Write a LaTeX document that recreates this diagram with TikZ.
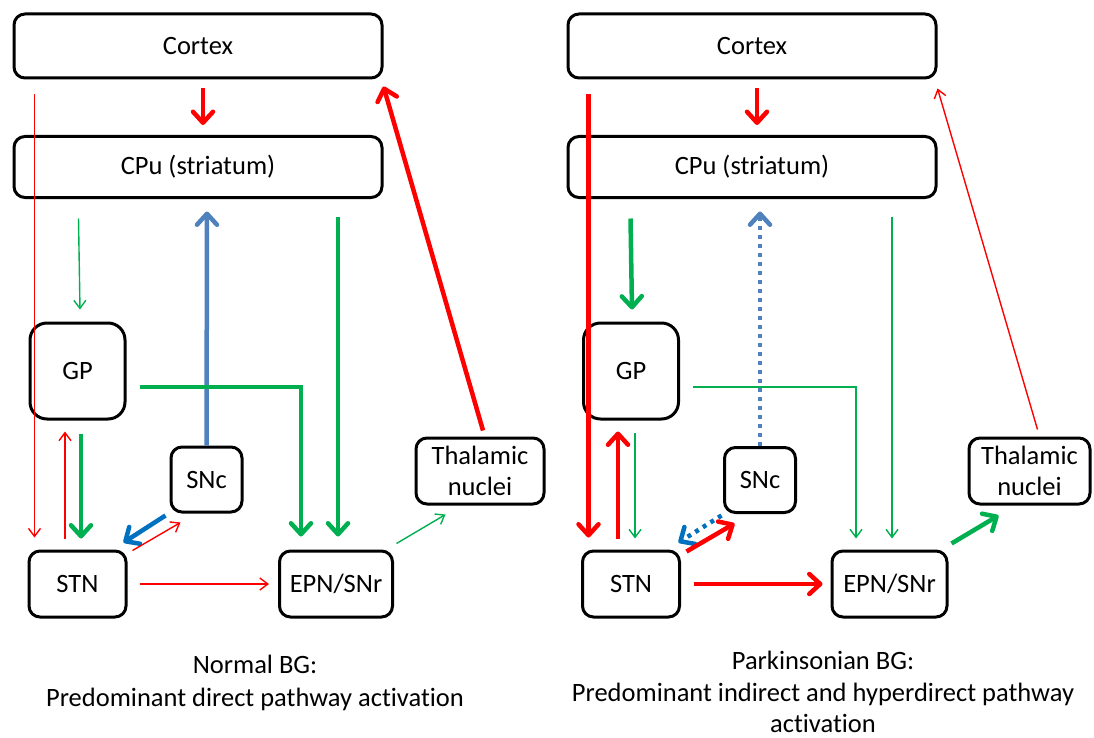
\documentclass[tikz,border=0pt]{standalone}
\usepackage{fontspec}
\setmainfont{Carlito}[Ligatures=CommonOff]
\usetikzlibrary{arrows.meta,calc}
\definecolor{pred}{RGB}{255,0,0}
\definecolor{pgreen}{RGB}{0,176,80}
\definecolor{pblue}{RGB}{79,129,189}
\definecolor{dblue}{RGB}{0,112,192}
\tikzset{
  box/.style={draw=black, line width=3pt, rounded corners=11pt, inner sep=0pt, align=center,
    font=\fontsize{26.5}{31}\selectfont},
  thk/.style={line width=4.5pt, -{Straight Barb[length=11pt,width=20pt,round]}},
  thn/.style={line width=1.4pt, -{Straight Barb[length=8pt,width=12pt]}},
  dotl/.style={dash pattern=on 4pt off 5pt},
  caption/.style={anchor=base, font=\fontsize{26.5}{32}\selectfont, inner sep=0pt}
}
\begin{document}
\begin{tikzpicture}[x=1pt,y=-1pt]
\useasboundingbox (0,0) rectangle (1094,738);
% ---------- left diagram ----------
\node[box, minimum width=368pt, minimum height=64pt] (cortexL) at (198,46) {Cortex};
\node[box, minimum width=368pt, minimum height=61pt] (cpuL) at (198,167) {CPu (striatum)};
\node[box, minimum width=95pt, minimum height=96pt, rounded corners=17pt] (gpL) at (77.5,371) {GP};
\node[box, minimum width=71pt, minimum height=65pt] (sncL) at (206.5,479.5) {SNc};
\node[box, minimum width=97pt, minimum height=66pt] (stnL) at (77.5,584) {STN};
\node[box, minimum width=113pt, minimum height=66pt] (epnL) at (336,584) {EPN/SNr};
\node[box, minimum width=128pt, minimum height=66pt] (thalL) at (480,471) {Thalamic\\nuclei};
\node[caption] (capLa) at (255,673) {Normal BG:};
\node[caption] (capLb) at (255,706) {Predominant direct pathway activation};

\draw[thk, pred] ($(cortexL.south)+(5,9)$) -- ($(cpuL.north)+(5,-10)$);
\draw[thn, pred] ($(cortexL.south west)+(22,15)$) -- ($(stnL.north west)+(7,-12)$);
\draw[thn, pred] ($(stnL.north)+(-12.5,-11)$) -- ($(gpL.south)+(-12.5,11)$);
\draw[thk, pgreen] ($(gpL.south)+(3.5,13)$) -- ($(stnL.north)+(3.5,-11)$);
\draw[thn, pgreen] ($(cpuL.south west)+(66,19.5)$) -- ($(gpL.north)+(2.5,-12)$);
\draw[thk, pblue] (sncL.north) -- ($(cpuL.south)+(9,12.5)$);
\draw[thk, dblue] ($(sncL.south west)+(-4,2)$) -- ($(stnL.north east)+(-4,-7)$);
\draw[thn, pred] ($(stnL.north east)+(5,1)$) -- ($(sncL.south west)+(11,9)$);
\draw[thn, pred] ($(stnL.east)+(12,0)$) -- ($(epnL.west)+(-9,0)$);
\draw[thk, pgreen] ($(gpL.east)+(13,16)$) -| ($(epnL.north)+(-35,-13)$);
\draw[thk, pgreen] ($(cpuL.south)+(140,17.5)$) -- ($(epnL.north)+(2,-13)$);
\draw[thn, pgreen] ($(epnL.north east)+(2.5,-6)$) -- ($(thalL.south west)+(31,9)$);
\draw[thk, pred] ($(thalL.north)+(3,-6)$) -- ($(cortexL.south east)+(0,7)$);

% ---------- right diagram ----------
\node[box, minimum width=368pt, minimum height=64pt] (cortexR) at (752,46) {Cortex};
\node[box, minimum width=368pt, minimum height=61pt] (cpuR) at (752,167) {CPu (striatum)};
\node[box, minimum width=95pt, minimum height=96pt, rounded corners=17pt] (gpR) at (631,371) {GP};
\node[box, minimum width=71pt, minimum height=65pt] (sncR) at (760,480) {SNc};
\node[box, minimum width=97pt, minimum height=66pt] (stnR) at (631,584) {STN};
\node[box, minimum width=115pt, minimum height=66pt] (epnR) at (889.5,584) {EPN/SNr};
\node[box, minimum width=121pt, minimum height=66pt] (thalR) at (1029.5,471) {Thalamic\\nuclei};
\node[caption] (capRa) at (823,669) {Parkinsonian BG:};
\node[caption] (capRb) at (823,701) {Predominant indirect and hyperdirect pathway};
\node[caption] (capRc) at (823,732) {activation};

\draw[thk, pred] ($(cortexR.south)+(5,9)$) -- ($(cpuR.north)+(5,-10)$);
\draw[thk, pred] ($(cortexR.south west)+(22,15)$) -- ($(stnR.north west)+(7.5,-12)$);
\draw[thk, pred] ($(stnR.north)+(-13,-11)$) -- ($(gpR.south)+(-13,11)$);
\draw[thn, pgreen] ($(gpR.south)+(4,12)$) -- ($(stnR.north)+(4,-11)$);
\draw[thk, pgreen] ($(cpuR.south west)+(64,19.5)$) -- ($(gpR.north)+(1,-12)$);
\draw[thk, dotl, pblue] (sncR.north) -- ($(cpuR.south)+(8,12.5)$);
\draw[thk, dotl, dblue] ($(sncR.south west)+(-1.5,1.5)$) -- ($(stnR.north east)+(-2.5,-7)$);
\draw[thk, pred] ($(stnR.north east)+(5.5,2)$) -- ($(sncR.south west)+(11.5,9.5)$);
\draw[thk, pred] ($(stnR.east)+(12.5,0)$) -- ($(epnR.west)+(-8,0)$);
\draw[thn, pgreen] ($(gpR.east)+(13,16)$) -| ($(epnR.north)+(-33.5,-11)$);
\draw[thn, pgreen] ($(cpuR.south)+(140,17.5)$) -- ($(epnR.north)+(2.5,-11)$);
\draw[thk, pgreen] ($(epnR.north east)+(3,-6)$) -- ($(thalR.south west)+(31,10)$);
\draw[thn, pred] ($(thalR.north)+(8,-7)$) -- ($(cortexR.south east)+(0,9)$);
\end{tikzpicture}
\end{document}
